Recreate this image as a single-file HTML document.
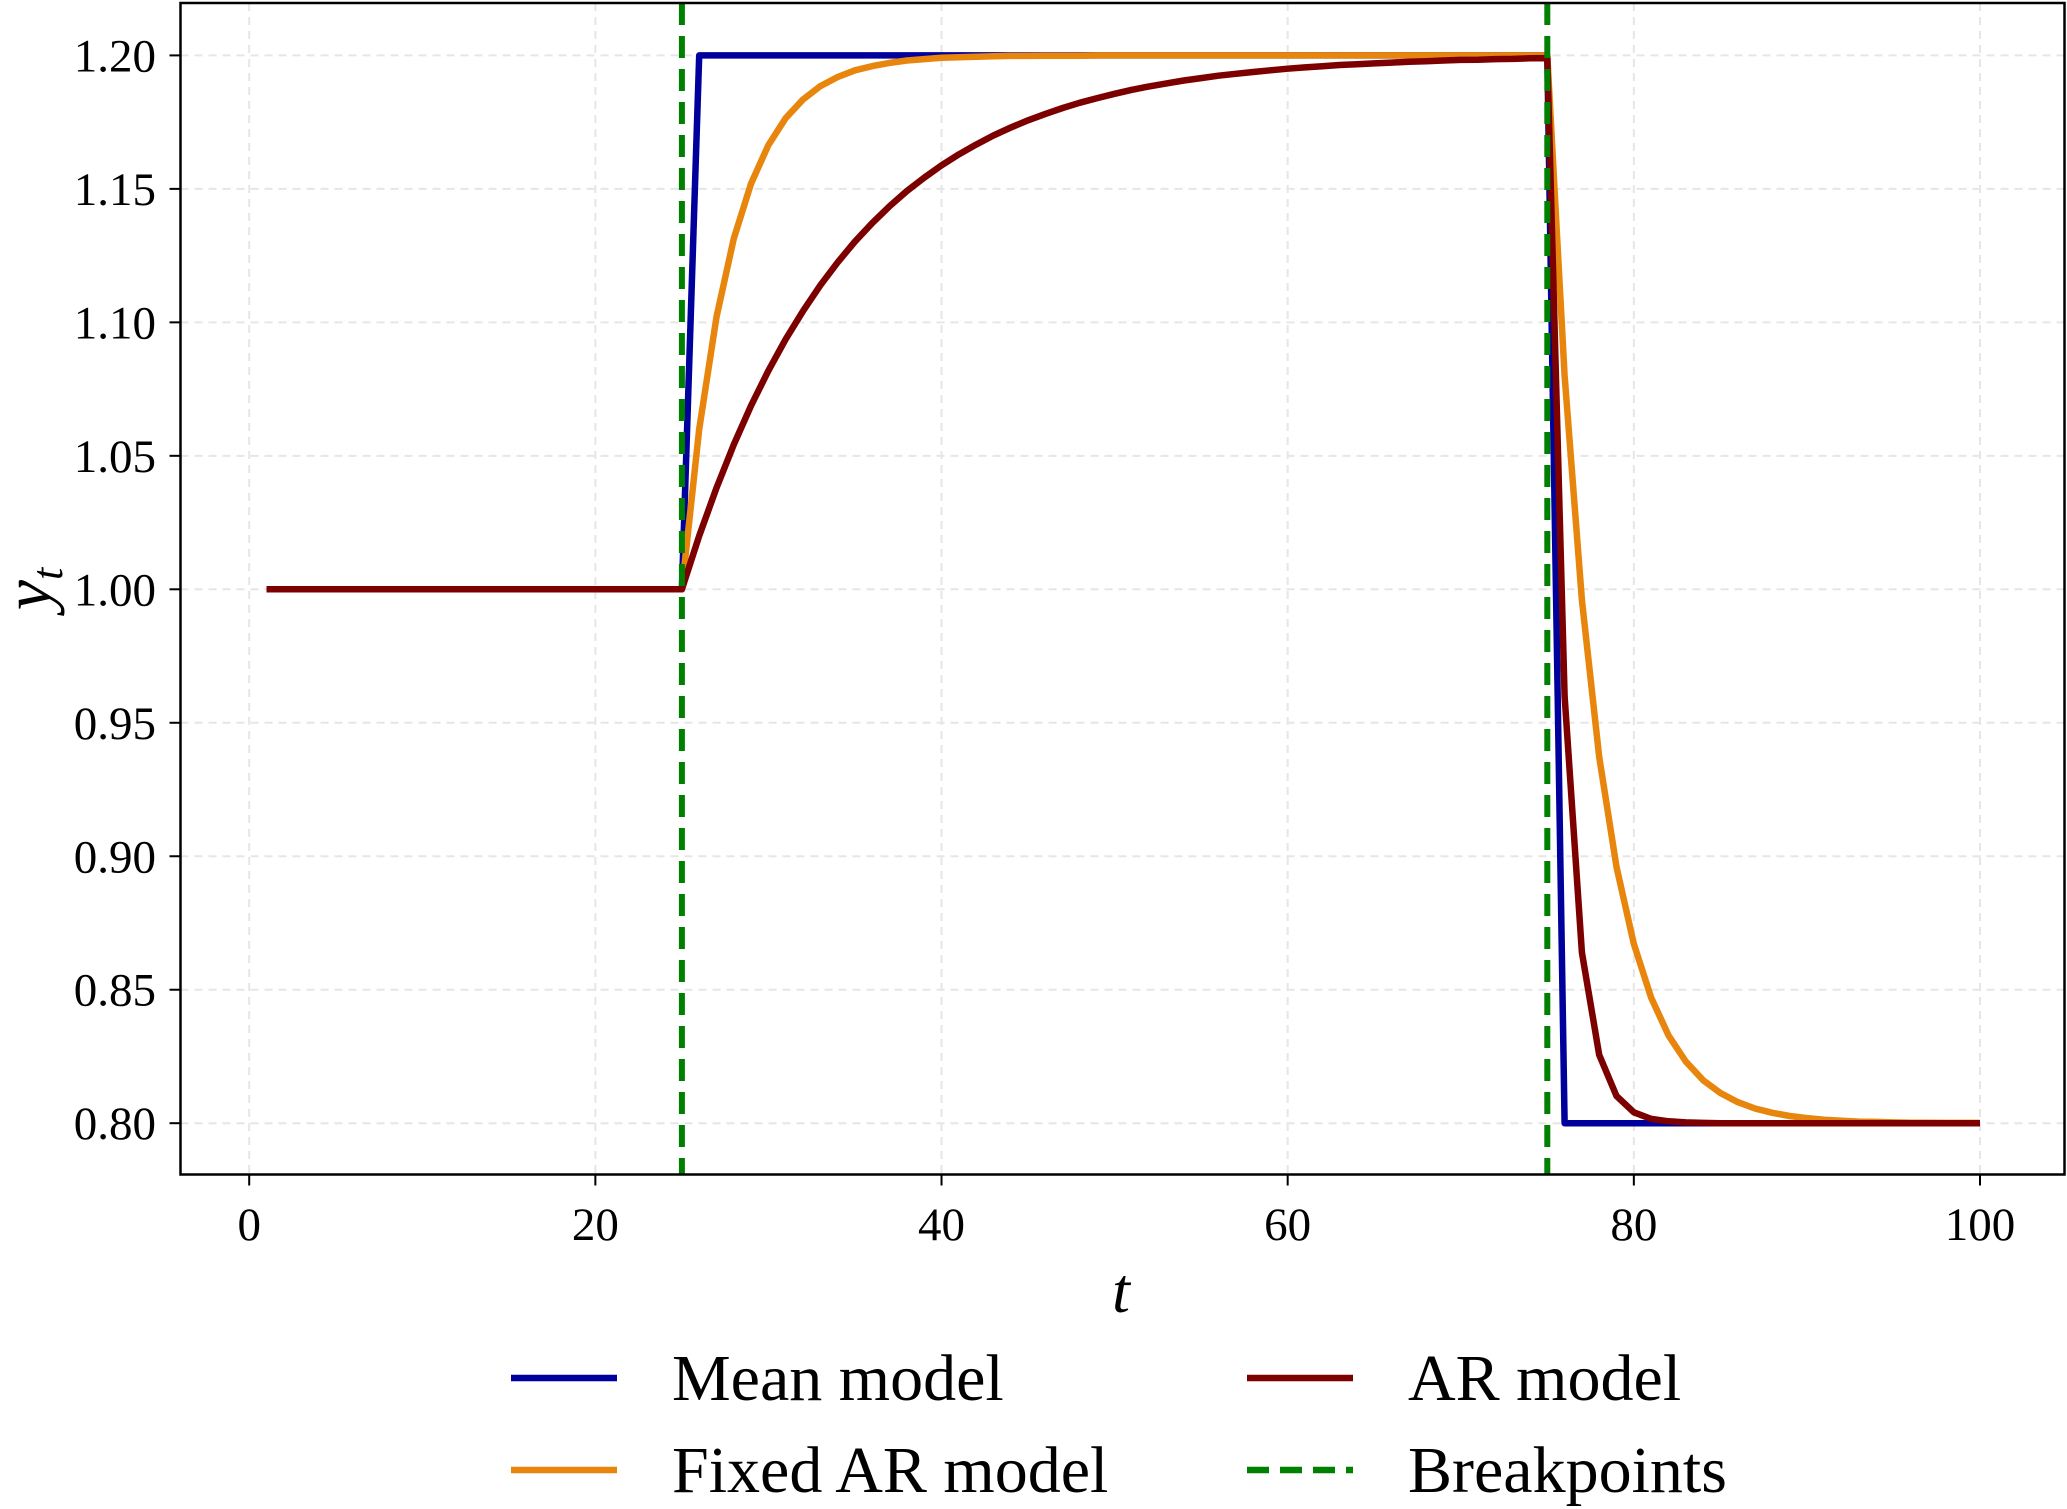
<!DOCTYPE html>
<html><head><meta charset="utf-8"><style>
html,body{margin:0;padding:0;background:#fff;}
svg{display:block;font-family:"Liberation Serif",serif;}
</style></head><body>
<svg id="chart" width="2067" height="1509" viewBox="0 0 2067 1509" xmlns="http://www.w3.org/2000/svg"></svg>
<script>
const tValues = [];
for (let i = 1; i <= 100; i++) tValues.push(i);
const meanModel = [1,1,1,1,1,1,1,1,1,1,1,1,1,1,1,1,1,1,1,1,1,1,1,1,1,
1.2,1.2,1.2,1.2,1.2,1.2,1.2,1.2,1.2,1.2,1.2,1.2,1.2,1.2,1.2,1.2,1.2,1.2,1.2,1.2,1.2,1.2,1.2,1.2,1.2,
1.2,1.2,1.2,1.2,1.2,1.2,1.2,1.2,1.2,1.2,1.2,1.2,1.2,1.2,1.2,1.2,1.2,1.2,1.2,1.2,1.2,1.2,1.2,1.2,1.2,
0.8,0.8,0.8,0.8,0.8,0.8,0.8,0.8,0.8,0.8,0.8,0.8,0.8,0.8,0.8,0.8,0.8,0.8,0.8,0.8,0.8,0.8,0.8,0.8,0.8];
const fixedARModel = [1,1,1,1,1,1,1,1,1,1,1,1,1,1,1,1,1,1,1,1,1,1,1,1,1,
1.060,1.102,1.1314,1.152,1.1664,1.1765,1.1835,1.1885,1.1919,1.1944,1.196,1.1972,1.1981,1.1986,1.1991,1.1993,1.1995,1.1997,1.1998,1.1998,1.1999,1.1999,1.1999,1.2,1.2,
1.2,1.2,1.2,1.2,1.2,1.2,1.2,1.2,1.2,1.2,1.2,1.2,1.2,1.2,1.2,1.2,1.2,1.2,1.2,1.2,1.2,1.2,1.2,1.2,1.2,
1.080,0.996,0.9372,0.896,0.8672,0.8471,0.8329,0.8231,0.8161,0.8113,0.8079,0.8055,0.8039,0.8027,0.8019,0.8013,0.8009,0.8006,0.8005,0.8003,0.8002,0.8002,0.8001,0.8001,0.8001];
const arModel = [1,1,1,1,1,1,1,1,1,1,1,1,1,1,1,1,1,1,1,1,1,1,1,1,1,
1.0200,1.0380,1.0542,1.0688,1.0819,1.0937,1.1043,1.1139,1.1225,1.1303,1.1372,1.1435,1.1492,1.1542,1.1588,1.1629,1.1666,1.1700,1.1730,1.1757,1.1781,1.1803,1.1823,1.1840,1.1856,
1.1871,1.1884,1.1895,1.1906,1.1915,1.1924,1.1931,1.1938,1.1944,1.1950,1.1955,1.1959,1.1964,1.1967,1.1970,1.1973,1.1976,1.1978,1.1981,1.1983,1.1984,1.1986,1.1987,1.1989,1.1990,
0.960,0.864,0.8256,0.8102,0.8041,0.8016,0.8007,0.8003,0.8001,0.8,0.8,0.8,0.8,0.8,0.8,0.8,0.8,0.8,0.8,0.8,0.8,0.8,0.8,0.8,0.8];
const breakpoints = [25, 75];
const xTicks = [0, 20, 40, 60, 80, 100];
const yTicks = [0.80, 0.85, 0.90, 0.95, 1.00, 1.05, 1.10, 1.15, 1.20];
const yTickLabels = ["0.80","0.85","0.90","0.95","1.00","1.05","1.10","1.15","1.20"];

const NS = "http://www.w3.org/2000/svg";
const svg = document.getElementById("chart");
const L = 180.5, R = 2064.5, T = 3, B = 1174.5;
function xs(v){ return 249.2 + v * (1980 - 249.2) / 100; }
function ys(v){ return 1123.2 - (v - 0.80) * (1123.2 - 55.4) / 0.40; }
function mk(tag, attrs){ const e = document.createElementNS(NS, tag); for (const k in attrs) e.setAttribute(k, attrs[k]); svg.appendChild(e); return e; }

xTicks.forEach(v => {
  const g = mk("line", {x1: xs(v), x2: xs(v), y1: T, y2: B, stroke: "#e6e6e6", "stroke-width": 2, "stroke-dasharray": "8,6"});
  
  
});
yTicks.forEach(v => {
  const g = mk("line", {x1: L, x2: R, y1: ys(v), y2: ys(v), stroke: "#e6e6e6", "stroke-width": 2, "stroke-dasharray": "8,6"});
  
  
});

function series(vals, color, name){
  const pts = tValues.map((t, i) => xs(t).toFixed(1) + "," + ys(vals[i]).toFixed(1)).join(" ");
  const p = mk("polyline", {points: pts, fill: "none", stroke: color, "stroke-width": 6.5, "stroke-linejoin": "round"});
  
  
}
series(meanModel, "#00009c", "mean-model-line");
series(fixedARModel, "#e8850c", "fixed-ar-model-line");
series(arModel, "#7d0000", "ar-model-line");
breakpoints.forEach(b => {
  const l = mk("line", {x1: xs(b), x2: xs(b), y1: T, y2: B, stroke: "#008000", "stroke-width": 6, "stroke-dasharray": "22,11"});
  
  
});

const fr = mk("rect", {x: L, y: T, width: R - L, height: B - T, fill: "none", stroke: "#000", "stroke-width": 2.5});



xTicks.forEach(v => {
  const tk = mk("line", {x1: xs(v), x2: xs(v), y1: B, y2: B + 11, stroke: "#000", "stroke-width": 2});
  
  
  const tx = mk("text", {x: xs(v), y: 1240, "text-anchor": "middle", "font-size": 47, fill: "#000"});
  tx.textContent = String(v);
  
  
});
yTicks.forEach((v, i) => {
  const tk = mk("line", {x1: L - 11, x2: L, y1: ys(v), y2: ys(v), stroke: "#000", "stroke-width": 2});
  
  
  const tx = mk("text", {x: 156, y: ys(v) + 16, "text-anchor": "end", "font-size": 47, fill: "#000"});
  tx.textContent = yTickLabels[i];
  
  
});

const xl = mk("text", {x: 1121, y: 1312, "text-anchor": "middle", "font-size": 64, "font-style": "italic", fill: "#000"});
xl.textContent = "t";


const yl = mk("text", {x: 0, y: 0, "text-anchor": "middle", "font-size": 68, "font-style": "italic", fill: "#000", transform: "translate(50,589) rotate(-90)"});
yl.innerHTML = 'y<tspan font-size="44" dy="12">t</tspan>';



const legendNames = ["Mean model", "Fixed AR model", "AR model", "Breakpoints"];
const legendColors = ["#00009c", "#e8850c", "#7d0000", "#008000"];
const legendPos = [[511, 1378], [511, 1470], [1247, 1378], [1247, 1470]];
legendNames.forEach((n, i) => {
  const [lx, ly] = legendPos[i];
  const ln = mk("line", {x1: lx, x2: lx + 106, y1: ly, y2: ly, stroke: legendColors[i], "stroke-width": 6.5});
  if (i === 3) ln.setAttribute("stroke-dasharray", "22,11");
  
  
  const tx = mk("text", {x: lx + 161, y: ly + 22, "font-size": 66, fill: "#000"});
  tx.textContent = n;
  
  
});
</script>
</body></html>
